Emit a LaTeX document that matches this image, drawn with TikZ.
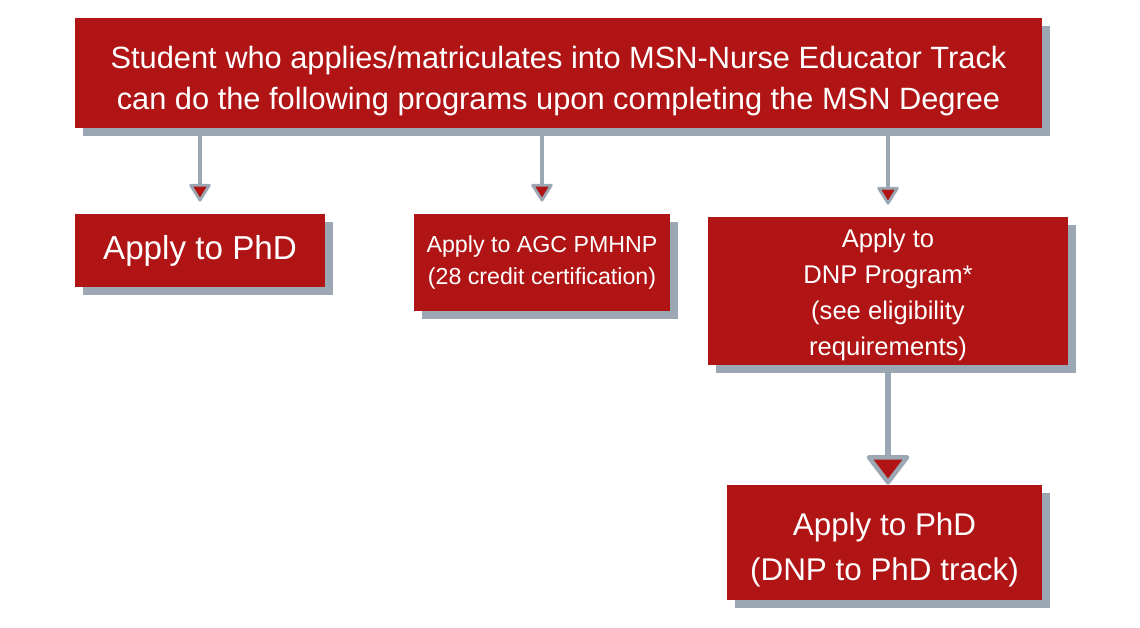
\documentclass[tikz,border=0pt]{standalone}
\usepackage{fontspec}
\setmainfont{Liberation Sans}
\usetikzlibrary{arrows.meta,shadows}
\definecolor{msnred}{RGB}{176,20,20}
\definecolor{shadowgray}{RGB}{155,167,178}

\begin{document}
\begin{tikzpicture}[x=0.5pt,y=-0.5pt,
  box/.style={fill=msnred,text=white,align=center,inner sep=0pt,
    drop shadow={shadow xshift=4pt,shadow yshift=-4pt,fill=shadowgray,opacity=1}},
  arrow/.style={shadowgray,line width=2pt,shorten >=6pt,-{Triangle[round,width=11.5pt,length=9.5pt,line width=1.4pt,fill=msnred]}},
  bigarrow/.style={shadowgray,line width=3pt,-{Triangle[round,width=23pt,length=15.5pt,line width=2.2pt,fill=msnred]}}]
\useasboundingbox (0,0) rectangle (1140,627);
\node [box,minimum width=483.5pt,minimum height=55pt,font=\fontsize{15.4}{20.5}\selectfont] (msn) at (558.5,73)
  {\rule{0pt}{19pt}Student who applies/matriculates into MSN-Nurse Educator Track\\can do the following programs upon completing the MSN Degree};
\node [box,minimum width=125pt,minimum height=36.5pt,font=\fontsize{16.6}{20}\selectfont] (phd) at (200,250.5) {Apply to PhD};
\node [box,minimum width=128pt,minimum height=48.5pt,font=\fontsize{11.6}{16}\selectfont] (agc) at (542,262.5)
  {Apply to AGC PMHNP\\(28 credit certification)};
\node [box,minimum width=180pt,minimum height=74pt,font=\fontsize{12.8}{18}\selectfont] (dnp) at (888,291)
  {\rule{0pt}{13pt}Apply to\\DNP Program*\\ (see eligibility\\requirements)};
\node [box,minimum width=157.5pt,minimum height=57.5pt,font=\fontsize{15.7}{22.5}\selectfont] (dnpphd) at (884.5,542.5)
  {\rule{0pt}{19pt}Apply to PhD\\(DNP to PhD track)};
\draw [arrow] (msn.south -| phd.north) -- (phd.north);
\draw [arrow] (msn.south -| agc.north) -- (agc.north);
\draw [arrow] (msn.south -| dnp.north) -- (dnp.north);
\draw [bigarrow] (dnp.south) -- (dnp.south |- dnpphd.north);
\end{tikzpicture}
\end{document}
